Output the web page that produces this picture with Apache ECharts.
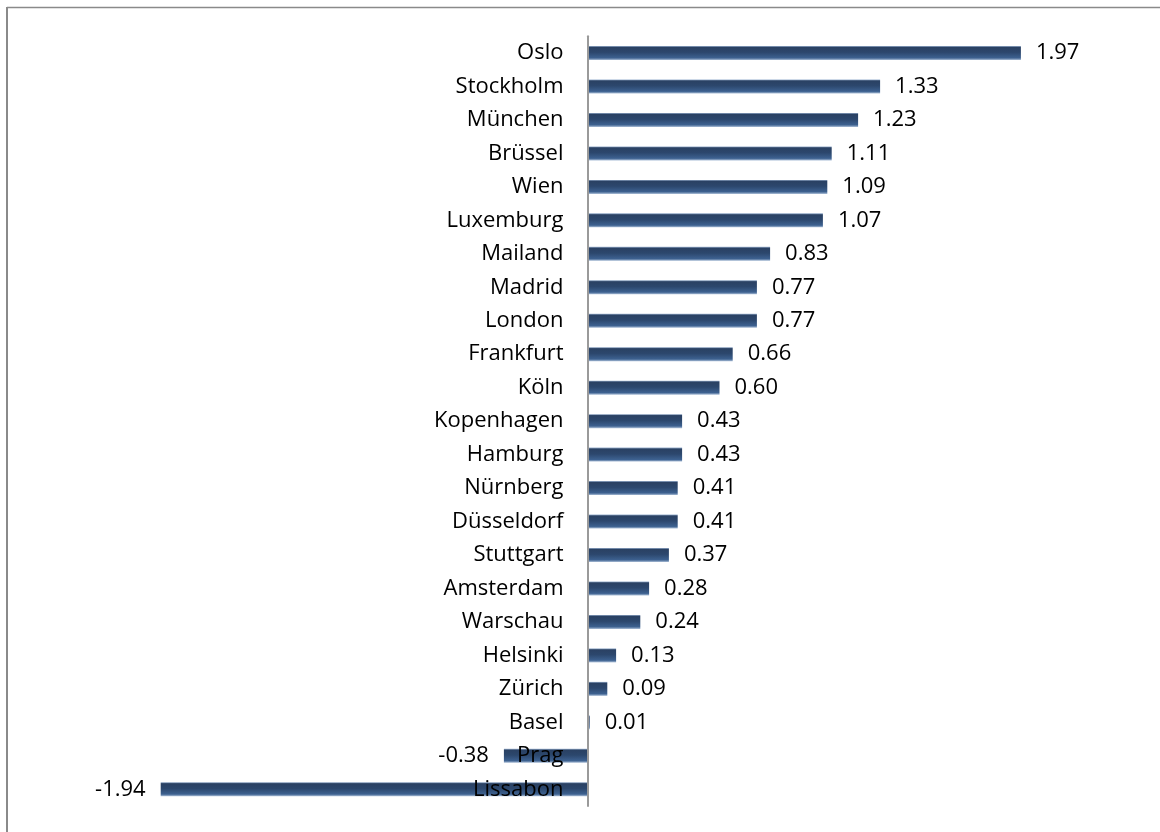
<!DOCTYPE html>
<html>
<head>
<meta charset="utf-8">
<script src="https://cdn.jsdelivr.net/npm/echarts@6/dist/echarts.min.js"></script>
<style>
  html, body { margin: 0; padding: 0; background: #fff; }
  #chart { width: 1160px; height: 832px; }
</style>
</head>
<body>
<div id="chart"></div>
<script>
// City names, top to bottom
const cities = [
  'Oslo', 'Stockholm', 'München', 'Brüssel', 'Wien', 'Luxemburg', 'Mailand',
  'Madrid', 'London', 'Frankfurt', 'Köln', 'Kopenhagen', 'Hamburg', 'Nürnberg',
  'Düsseldorf', 'Stuttgart', 'Amsterdam', 'Warschau', 'Helsinki', 'Zürich',
  'Basel', 'Prag', 'Lissabon'
];
// Value per city
const values = [
  1.97, 1.33, 1.23, 1.11, 1.09, 1.07, 0.83,
  0.77, 0.77, 0.66, 0.60, 0.43, 0.43, 0.41,
  0.41, 0.37, 0.28, 0.24, 0.13, 0.09,
  0.01, -0.38, -1.94
];

// value range of the horizontal scale
const xMin = -2.5;
const xMax = 2.5;

const chart = echarts.init(document.getElementById('chart'), null, { renderer: 'canvas' });

// Bar fill: dark navy body with a light rim top and bottom
const barFill = new echarts.graphic.LinearGradient(0, 0, 0, 1, [
  { offset: 0, color: '#9ab1cf' },
  { offset: 0.1, color: '#2a4163' },
  { offset: 0.45, color: '#2c476d' },
  { offset: 0.85, color: '#3d6190' },
  { offset: 1, color: '#a9bdd6' }
]);

const labelFont = '"Open Sans", "Noto Sans", sans-serif';
const gridLeft = 37.5;
const gridWidth = 1100;
// shift the category axis from the grid's left edge to the zero line
const zeroShift = gridWidth * (0 - xMin) / (xMax - xMin);

chart.setOption({
  animation: false,
  backgroundColor: '#ffffff',
  grid: {
    left: gridLeft, width: gridWidth, top: 36.3, bottom: 26,
    containLabel: false, outerBoundsMode: 'none'
  },
  xAxis: {
    type: 'value',
    min: xMin,
    max: xMax,
    show: false
  },
  yAxis: {
    type: 'category',
    data: cities,
    inverse: true,
    z: 3,
    offset: -zeroShift,
    axisLine: { show: true, onZero: false, lineStyle: { color: '#9a9a9a', width: 2 } },
    axisTick: { show: false },
    splitLine: { show: false },
    axisLabel: {
      margin: 24,
      color: '#000',
      fontSize: 22,
      fontFamily: labelFont
    }
  },
  series: [{
    type: 'bar',
    barWidth: 14,
    data: values.map(v => ({
      value: v,
      label: { position: v < 0 ? 'left' : 'right' }
    })),
    itemStyle: { color: barFill },
    label: {
      show: true,
      distance: 15,
      color: '#000',
      fontSize: 22,
      fontFamily: labelFont,
      formatter: p => p.value.toFixed(2)
    }
  }],
  graphic: [
    // frame edges
    { type: 'line', shape: { x1: 7, y1: 7.5, x2: 1160, y2: 7.5 }, style: { stroke: '#8a8a8a', lineWidth: 1.5 }, silent: true },
    { type: 'line', shape: { x1: 7, y1: 7, x2: 7, y2: 832 }, style: { stroke: '#8a8a8a', lineWidth: 2 }, silent: true }
  ]
});
</script>
</body>
</html>
